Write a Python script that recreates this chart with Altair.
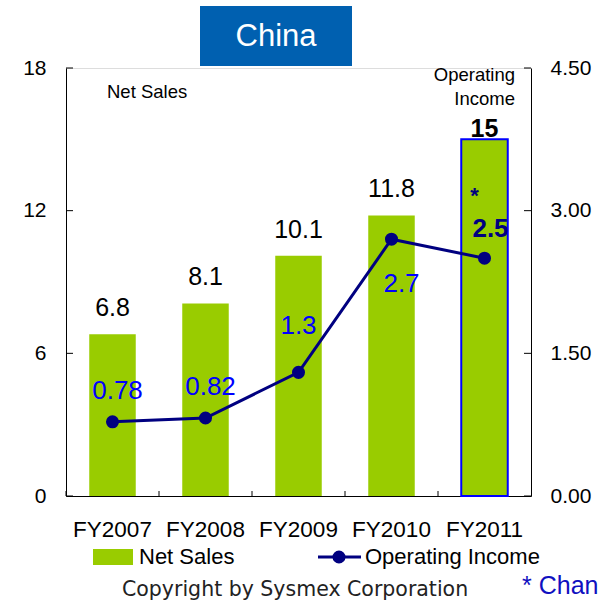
import altair as alt
import pandas as pd

years = ["FY2007", "FY2008", "FY2009", "FY2010", "FY2011"]
net_sales = [6.8, 8.1, 10.1, 11.8, 15]
op_income = [0.78, 0.82, 1.3, 2.7, 2.5]
sales_labels = ["6.8", "8.1", "10.1", "11.8", "15"]
income_labels = ["0.78", "0.82", "1.3", "2.7", "2.5"]
left_ticks = [0, 6, 12, 18]
right_ticks = [0, 1.5, 3, 4.5]

df = pd.DataFrame({
    "year": years,
    "sales": net_sales,
    "income": op_income,
    "slabel": sales_labels,
    "ilabel": income_labels,
})
lt = pd.DataFrame({"t": left_ticks})
rt = pd.DataFrame({"t": right_ticks})
one = pd.DataFrame({"a": [0]})

FONT = "Liberation Sans"
GREEN = "#99CC00"
NAVY = "#000080"
BLUE = "#0000FF"

W, H = 465, 428

xaxis = alt.Axis(title=None, labelAngle=0, labelFont=FONT, labelFontSize=22.5,
                 labelColor="black", ticks=False, domainColor="black",
                 domainWidth=1, labelPadding=22)
xscale = alt.Scale(paddingInner=0.5, paddingOuter=0.25)
xenc = alt.X("year:N", sort=years, scale=xscale, axis=xaxis)

lscale = alt.Scale(domain=[0, 18], nice=False, zero=True)
rscale = alt.Scale(domain=[0, 4.5], nice=False, zero=True)
laxis = alt.Axis(title=None, values=left_ticks, ticks=False, grid=False,
                 labelFont=FONT, labelFontSize=21, labelColor="black",
                 domainColor="black", labelPadding=20, orient="left")
raxis = alt.Axis(title=None, values=right_ticks, ticks=False, grid=False,
                 format=".2f", labelFont=FONT, labelFontSize=21,
                 labelColor="black", domainColor="black", labelPadding=19,
                 orient="right")

base = alt.Chart(df)
yL = alt.Y("sales:Q", scale=lscale, axis=laxis)

bars = base.mark_bar(color=GREEN).encode(x=xenc, y=yL)
last_bar = base.transform_filter(alt.datum.year == "FY2011").mark_bar(
    fill=GREEN, stroke=BLUE, strokeWidth=2).encode(x=xenc, y=yL)
sales_text = base.transform_filter(alt.datum.year != "FY2011").mark_text(
    font=FONT, fontSize=25, baseline="alphabetic", dy=-18, color="black").encode(
    x=xenc, y=yL, text="slabel:N")
sales_text_last = base.transform_filter(alt.datum.year == "FY2011").mark_text(
    font=FONT, fontSize=25, fontWeight="bold", baseline="alphabetic", dy=-2,
    color="black").encode(x=xenc, y=yL, text="slabel:N")
lticks = alt.Chart(lt).mark_rule(color="black", strokeWidth=1).encode(
    y=alt.Y("t:Q", scale=lscale, axis=laxis), x=alt.value(0), x2=alt.value(7))
xticks = base.mark_rule(color="black", strokeWidth=1, xOffset=-23.25).encode(
    x=alt.X("year:N", sort=years, bandPosition=0, scale=xscale, axis=xaxis),
    y=alt.value(H), y2=alt.value(H - 5))

left = alt.layer(bars, last_bar, sales_text, sales_text_last, lticks, xticks)

yR = alt.Y("income:Q", scale=rscale, axis=raxis)
line = base.mark_line(color=NAVY, strokeWidth=3).encode(x=xenc, y=yR)
pts = base.mark_circle(size=170, color=NAVY, opacity=1).encode(x=xenc, y=yR)


def inc_label(sel, dx, dy, color=BLUE, weight="normal"):
    return base.transform_filter(
        alt.FieldOneOfPredicate(field="year", oneOf=sel)).mark_text(
        font=FONT, fontSize=26, baseline="middle", dx=dx, dy=dy,
        color=color, fontWeight=weight).encode(x=xenc, y=yR, text="ilabel:N")


lab1 = inc_label(["FY2007", "FY2008"], 5, -31)
lab2 = inc_label(["FY2009"], 0, -46)
lab3 = inc_label(["FY2010"], 10, 45)
lab4 = inc_label(["FY2011"], 6, -29, color=NAVY, weight="bold")
star = base.transform_filter(alt.datum.year == "FY2011").mark_text(
    font=FONT, fontSize=22, fontWeight="bold", baseline="middle", dx=-10, dy=-62,
    color=NAVY, text="*").encode(x=xenc, y=yR)
rticks = alt.Chart(rt).mark_rule(color="black", strokeWidth=1).encode(
    y=alt.Y("t:Q", scale=rscale, axis=raxis), x=alt.value(W - 7), x2=alt.value(W))

right = alt.layer(line, pts, lab1, lab2, lab3, lab4, star, rticks)

# decorations
d = alt.Chart(one)
title_box = d.mark_rect(color="#0060B0").encode(
    x=alt.value(134), x2=alt.value(286), y=alt.value(-62), y2=alt.value(-2))
title_txt = d.mark_text(text="China", font=FONT, fontSize=31, color="white",
                        baseline="middle", align="center").encode(
    x=alt.value(210), y=alt.value(-31))
ns_lbl = d.mark_text(text="Net Sales", font=FONT, fontSize=18.5, color="black",
                     baseline="middle", align="left").encode(
    x=alt.value(41), y=alt.value(24))
oi_lbl = d.mark_text(text=["Operating", "Income"], font=FONT, fontSize=18.5,
                     color="black", baseline="middle", align="right",
                     lineHeight=24).encode(
    x=alt.value(449), y=alt.value(7))
leg_rect = d.mark_rect(color=GREEN).encode(
    x=alt.value(27), x2=alt.value(67), y=alt.value(481), y2=alt.value(497))
leg_txt1 = d.mark_text(text="Net Sales", font=FONT, fontSize=22, color="black",
                       baseline="middle", align="left").encode(
    x=alt.value(73), y=alt.value(489))
leg_line = d.mark_rule(color=NAVY, strokeWidth=3).encode(
    x=alt.value(252), x2=alt.value(295), y=alt.value(489))
leg_pt = d.mark_circle(size=170, color=NAVY, opacity=1).encode(
    x=alt.value(273), y=alt.value(489))
leg_txt2 = d.mark_text(text="Operating Income", font=FONT, fontSize=22,
                       color="black", baseline="middle", align="left").encode(
    x=alt.value(299), y=alt.value(489))
copy_txt = d.mark_text(text="Copyright by Sysmex Corporation", font="DejaVu Sans",
                       fontSize=20.5, color="#222222", baseline="middle",
                       align="left").encode(x=alt.value(56), y=alt.value(522))
note_txt = d.mark_text(text="* Changed segment", font=FONT, fontSize=25,
                       color="#1010C0", baseline="middle", align="left").encode(
    x=alt.value(456), y=alt.value(518))

deco = alt.layer(title_box, title_txt, ns_lbl, oi_lbl, leg_rect, leg_txt1,
                 leg_line, leg_pt, leg_txt2, copy_txt, note_txt)

chart = alt.layer(left, right, deco).resolve_scale(y="independent").properties(
    width=W, height=H,
    autosize=alt.AutoSizeParams(type="none"),
    padding={"left": 66, "top": 68, "right": 599 - 66 - W, "bottom": 602 - 68 - H},
).configure_view(stroke=None).configure(background="white")

chart.save("out.html", embed_options={"renderer": "svg", "actions": False})
